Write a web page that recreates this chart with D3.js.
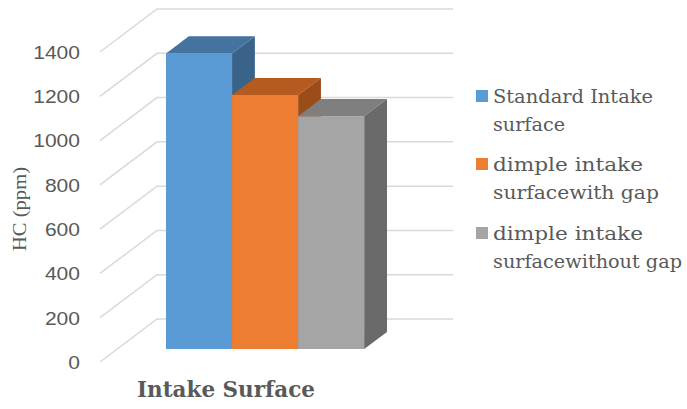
<!DOCTYPE html>
<html>
<head>
<meta charset="utf-8">
<script src="https://cdn.jsdelivr.net/npm/d3@7"></script>
<style>
  html, body { margin: 0; padding: 0; background: #ffffff; }
  svg { display: block; }
</style>
</head>
<body>
<svg id="chart" width="687" height="409"></svg>
<script>
// HC emissions for each intake surface
const categories = ["Intake Surface"];
const seriesNames = [
  ["Standard Intake", "surface"],
  ["dimple intake", "surfacewith gap"],
  ["dimple intake", "surfacewithout gap"]
];
const seriesValues = [1335, 1147, 1052];
const tickValues = [0, 200, 400, 600, 800, 1000, 1200, 1400];

const frontColors = ["#5b9bd5", "#ed7d31", "#a5a5a5"];
const topColors   = ["#44739f", "#b55b1f", "#7f7f7f"];
const sideColors  = ["#3a6389", "#9b4d19", "#6a6a6a"];

const svg = d3.select("#chart");
const textColor = "#595959";

// Oblique projection: front plane origin, wall depth offset
const origin = { x: 100, y: 362 };
const depth = { dx: 57, dy: -43 };
const plotWidth = 296;

const y = d3.scaleLinear().domain([0, 1400]).range([0, 310]);
const x = d3.scaleBand().domain(categories).range([0, plotWidth]);
const xs = d3.scaleBand().domain(d3.range(seriesValues.length))
  .range([0, x.bandwidth()]).paddingOuter(0.74).paddingInner(0);

// project (u along category axis, v value, d depth 0..1) to screen
function P(u, v, d) {
  return [origin.x + u + depth.dx * d, origin.y - y(v) + depth.dy * d];
}

const grid = svg.append("g");
tickValues.forEach(t => {
  const a = P(0, t, 0), b = P(0, t, 1), c = P(plotWidth, t, 1);
  grid.append("path")
    .attr("d", d3.line()([a, b, c]))
    .attr("fill", "none")
    .attr("stroke", "#d9d9d9")
    .attr("stroke-width", 1.5);
});

// tick labels on the front edge
svg.append("g").selectAll("text").data(tickValues).join("text")
  .attr("x", 80)
  .attr("y", d => P(0, d, 0)[1])
  .attr("dy", "0.36em")
  .attr("text-anchor", "end")
  .attr("font-family", "'Liberation Sans', Arial, sans-serif")
  .attr("font-size", 19)
  .attr("fill", textColor)
  .attr("textLength", d => String(d).length * 11.7)
  .attr("lengthAdjust", "spacingAndGlyphs")
  .text(d => d);

// bars, drawn left to right so later bars cover earlier side faces
const d0 = 0.3, d1 = 0.7;
const bars = svg.append("g");
seriesValues.forEach((val, i) => {
  const u0 = x(categories[0]) + xs(i);
  const u1 = u0 + xs.bandwidth();
  const poly = pts => "M" + pts.map(p => p.join(",")).join("L") + "Z";
  // front face
  bars.append("path")
    .attr("d", poly([P(u0, 0, d0), P(u1, 0, d0), P(u1, val, d0), P(u0, val, d0)]))
    .attr("fill", frontColors[i]);
  // top face
  bars.append("path")
    .attr("d", poly([P(u0, val, d0), P(u1, val, d0), P(u1, val, d1), P(u0, val, d1)]))
    .attr("fill", topColors[i]);
  // right side face
  bars.append("path")
    .attr("d", poly([P(u1, 0, d0), P(u1, 0, d1), P(u1, val, d1), P(u1, val, d0)]))
    .attr("fill", sideColors[i]);
});

// axis titles
svg.append("text")
  .attr("transform", "translate(25.5,209) rotate(-90)")
  .attr("text-anchor", "middle")
  .attr("font-family", "'Liberation Serif', serif")
  .attr("font-size", 18)
  .attr("fill", textColor)
  .attr("textLength", 84)
  .attr("lengthAdjust", "spacingAndGlyphs")
  .text("HC (ppm)");

svg.append("text")
  .attr("x", 137)
  .attr("y", 397)
  .attr("font-family", "'DejaVu Serif', serif")
  .attr("font-weight", "bold")
  .attr("font-size", 22)
  .attr("fill", textColor)
  .attr("textLength", 178)
  .attr("lengthAdjust", "spacingAndGlyphs")
  .text(categories[0]);

// legend
const legendTop = [90, 158, 227];
const lineWidths = [[160, 72], [150, 166], [150, 189]];
const legend = svg.append("g");
seriesNames.forEach((lines, i) => {
  legend.append("rect")
    .attr("x", 476).attr("y", legendTop[i])
    .attr("width", 12).attr("height", 12)
    .attr("fill", frontColors[i]);
  lines.forEach((ln, j) => {
    legend.append("text")
      .attr("x", 493)
      .attr("y", legendTop[i] + 13 + j * 28)
      .attr("font-family", "'DejaVu Serif', serif")
      .attr("font-size", 18)
      .attr("fill", textColor)
      .attr("textLength", lineWidths[i][j])
      .attr("lengthAdjust", "spacingAndGlyphs")
      .text(ln);
  });
});
</script>
</body>
</html>
